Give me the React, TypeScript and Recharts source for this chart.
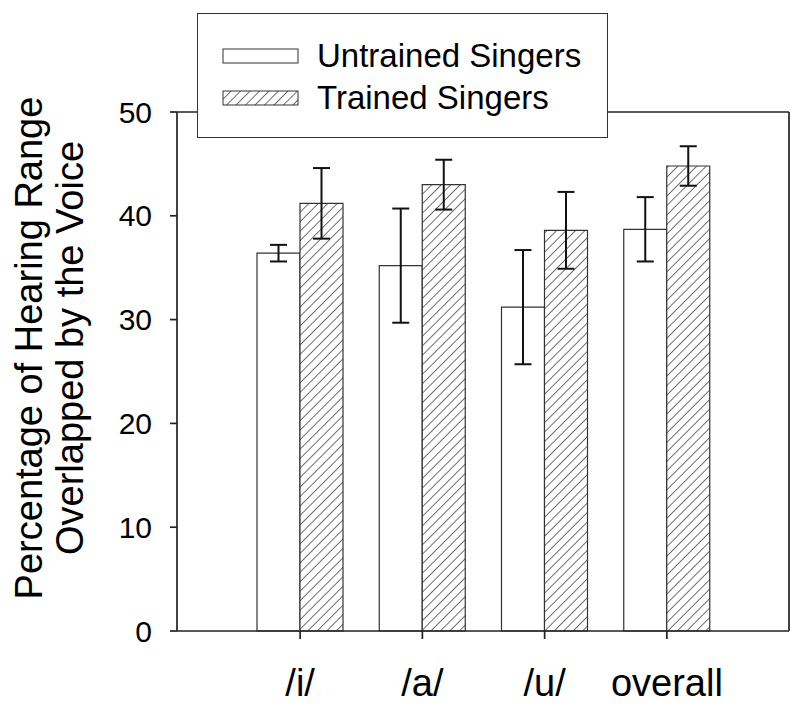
import React from "react"
import { BarChart, Bar, XAxis, YAxis, ErrorBar, Legend } from "recharts"

const categories = ["/i/", "/a/", "/u/", "overall"]
const untrained = [36.4, 35.2, 31.2, 38.7]
const untrainedErr = [0.8, 5.5, 5.5, 3.1]
const trained = [41.2, 43.0, 38.6, 44.8]
const trainedErr = [3.4, 2.4, 3.7, 1.9]
const yTicks = [0, 10, 20, 30, 40, 50]

const data = categories.map((name, i) => ({
  name,
  untrained: untrained[i],
  untrainedErr: untrainedErr[i],
  trained: trained[i],
  trainedErr: trainedErr[i],
}))

const FONT = '"Liberation Sans", Arial, sans-serif'
const INK = "#222"

function XTick(props: any) {
  const { x, y, payload } = props
  return (
    <text x={x} y={y + 55} textAnchor="middle" fontSize={38} fill="#000" fontFamily={FONT}>
      {payload.value}
    </text>
  )
}

function YTitle() {
  const cy = 348
  return (
    <g>
      <text x={42} y={cy} transform={`rotate(-90, 42, ${cy})`} textAnchor="middle" fontSize={38} fill="#000" fontFamily={FONT}>
        Percentage of Hearing Range
      </text>
      <text x={83} y={cy} transform={`rotate(-90, 83, ${cy})`} textAnchor="middle" fontSize={38} fill="#000" fontFamily={FONT}>
        Overlapped by the Voice
      </text>
    </g>
  )
}

function LegendBox() {
  const row = (label: string, hatched: boolean, top: number) => (
    <div style={{ position: "absolute", left: 24, top, height: 30, display: "flex", alignItems: "center" }}>
      <svg width={77} height={16} style={{ display: "block" }}>
        <defs>
          <pattern id="legHatch" patternUnits="userSpaceOnUse" width={6.7} height={6.7} patternTransform="rotate(45)">
            <rect width={6.7} height={6.7} fill="#fff" />
            <line x1={0} y1={0} x2={0} y2={6.7} stroke="#222" strokeWidth={1.3} />
          </pattern>
        </defs>
        <rect x={1} y={1} width={75} height={14} fill={hatched ? "url(#legHatch)" : "#fff"} stroke="#333" strokeWidth={1} />
      </svg>
      <span style={{ marginLeft: 18, fontSize: 33, lineHeight: "30px", color: "#000", fontFamily: FONT }}>{label}</span>
    </div>
  )
  return (
    <div
      style={{
        position: "relative",
        width: 411,
        height: 125,
        boxSizing: "border-box",
        border: "1.5px solid #333",
        background: "#fff",
      }}
    >
      {row("Untrained Singers", false, 27)}
      {row("Trained Singers", true, 69)}
    </div>
  )
}

export default function App() {
  return (
    <div style={{ position: "absolute", left: 0, top: 0, width: 800, height: 709, background: "#fff", fontFamily: FONT }}>
      <BarChart
        width={800}
        height={709}
        data={data}
        margin={{ top: 111, right: 10, bottom: 18, left: 0 }}
        barGap={0}
        barSize={43}
      >
        <defs>
          <pattern id="hatch" patternUnits="userSpaceOnUse" width={6.7} height={6.7} patternTransform="rotate(45)">
            <rect width={6.7} height={6.7} fill="#fff" />
            <line x1={0} y1={0} x2={0} y2={6.7} stroke="#222" strokeWidth={1.3} />
          </pattern>
        </defs>
        <XAxis
          dataKey="name"
          height={60}
          padding={{ left: 62, right: 61 }}
          tickSize={8}
          tickMargin={2}
          tick={<XTick />}
          axisLine={{ stroke: INK, strokeWidth: 1.7 }}
          tickLine={{ stroke: INK, strokeWidth: 1.7 }}
        />
        <XAxis
          xAxisId="top"
          dataKey="name"
          orientation="top"
          height={1}
          tick={false}
          tickLine={false}
          axisLine={{ stroke: INK, strokeWidth: 1.7 }}
        />
        <YAxis
          width={177}
          domain={[0, 50]}
          ticks={yTicks}
          tickSize={7}
          tickMargin={18}
          tick={{ fontSize: 30, fill: "#000", fontFamily: FONT }}
          axisLine={{ stroke: INK, strokeWidth: 1.7 }}
          tickLine={{ stroke: INK, strokeWidth: 1.7 }}
          label={{ content: () => <YTitle /> }}
        />
        <YAxis
          yAxisId="right"
          orientation="right"
          width={1}
          domain={[0, 50]}
          tick={false}
          tickLine={false}
          axisLine={{ stroke: INK, strokeWidth: 1.7 }}
        />
        <Legend
          layout="horizontal"
          verticalAlign="middle"
          align="center"
          wrapperStyle={{ position: "absolute", left: 197, top: 13, width: 411, height: 125 }}
          content={() => <LegendBox />}
        />
        <Bar dataKey="untrained" name="Untrained Singers" fill="#fff" stroke="#333" strokeWidth={1.2} isAnimationActive={false}>
          <ErrorBar dataKey="untrainedErr" direction="y" width={8.5} stroke="#111" strokeWidth={2} />
        </Bar>
        <Bar dataKey="trained" name="Trained Singers" fill="url(#hatch)" stroke="#333" strokeWidth={1.2} isAnimationActive={false}>
          <ErrorBar dataKey="trainedErr" direction="y" width={8.5} stroke="#111" strokeWidth={2} />
        </Bar>
      </BarChart>
    </div>
  )
}
